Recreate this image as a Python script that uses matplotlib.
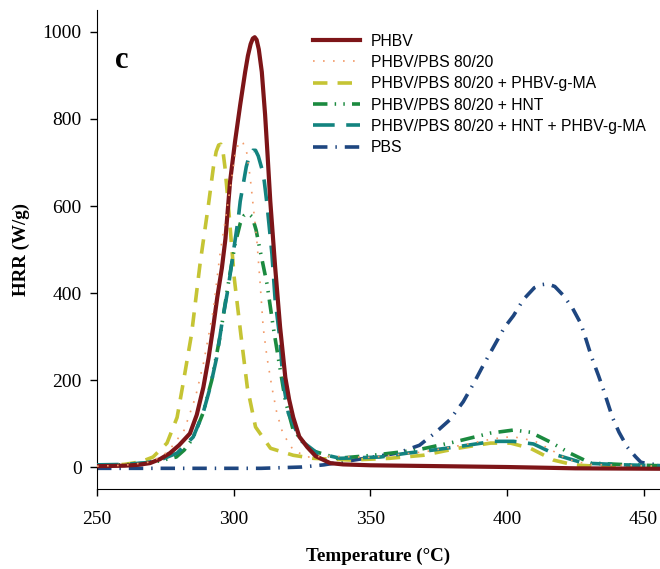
import numpy as np
import matplotlib.pyplot as plt

# values (temperature in C, HRR in W/g)
T_phbv = [250, 260, 265, 269.4, 273, 276.7, 280, 284, 286.5, 288.9, 290.8, 292.5, 294, 295.7, 297,
          298.7, 300.5, 302.4, 304.2, 305.2, 306.2, 307, 307.7, 308.4, 309.2, 310.3, 311.5, 312.4,
          313.4, 315.2, 317, 318.9, 320.3, 321.8, 324, 326.9, 330, 335.3, 340, 350, 375, 400, 425, 456]
hrr_phbv = [2, 3, 5, 9, 18, 32, 50, 77, 120, 183, 250, 321, 390, 458, 525,
            657, 748, 833, 908, 945, 972, 985, 988, 982, 960, 908, 810, 718,
            611, 458, 321, 206, 155, 114, 70, 46, 25, 9, 6, 4, 2, 0, -3, -4]

T_blend = [250, 260, 270, 276, 281.9, 286, 289, 292.5, 295, 297.5, 299.5, 300.5, 301.7, 302.6, 303.5,
           304.8, 306, 306.7, 308.5, 309.7, 310.8, 312.2, 314, 315.8, 318, 321.8, 327, 335,
           350, 370, 385, 395, 402, 410, 416, 422, 430, 456]
hrr_blend = [2, 4, 12, 35, 85, 160, 240, 359, 490, 590, 673, 718, 742, 750, 744,
             722, 668, 627, 519, 421, 321, 252, 183, 124, 77, 39, 23, 25,
             22, 35, 52, 65, 70, 60, 40, 18, 6, 2]

T_ma = [250, 260, 266, 270.5, 275.6, 279.3, 281.5, 284.6, 287.7, 290.8, 292.6, 293.6, 294.5, 295.3,
        296.1, 296.8, 298, 300.2, 302.6, 305, 308, 313.5, 321.8, 329, 342.7, 357, 369.4, 381.9, 394,
        401.3, 408.6, 417, 424.4, 437, 456]
hrr_ma = [3, 6, 12, 23, 55, 114, 192, 306, 467, 604, 690, 725, 740, 742,
          725, 690, 606, 435, 306, 183, 92, 43, 27, 20, 16, 20, 27, 43, 55,
          55, 43, 16, 5, 0, 0]

T_hnt = [250, 260, 270, 279, 281.9, 285, 288.8, 292, 295, 298, 300.5, 302.4, 303.8, 305.3, 306.8,
         308.2, 309.7, 312.2, 314.5, 316.3, 318.9, 321.8, 328, 337.9, 351, 367, 380.4, 394, 402.4,
         408.6, 416, 423, 430.6, 445, 456]
hrr_hnt = [4, 5, 10, 23, 39, 65, 124, 200, 300, 420, 512, 560, 578, 583, 575,
           545, 497, 421, 321, 252, 153, 85, 39, 20, 27, 39, 57, 78, 85,
           80, 57, 32, 9, 5, 3]

T_hnt_ma = [250, 260, 268, 273, 279.3, 285.2, 288.8, 291.4, 293.8, 295.7, 298, 299.8, 301.7, 302.4,
            303.5, 304.6, 305.8, 307, 308, 309, 310.3, 311.2, 312.2, 314, 315.2, 317, 318, 320, 324.4,
            330.6, 339, 353.7, 363.6, 373, 385.5, 395, 402.4, 409.7, 418.5, 428, 442.7, 456]
hrr_hnt_ma = [5, 6, 10, 16, 32, 69, 124, 183, 252, 330, 412, 490, 572, 611,
              650, 690, 718, 728, 728, 715, 686, 657, 604, 490, 382, 291, 199, 124, 62,
              32, 20, 23, 32, 39, 50, 59, 59, 53, 27, 9, 5, 3]

T_pbs = [250, 280, 310, 325, 333, 339, 346, 352, 360, 368, 374, 379, 384, 387.8, 391, 395, 399,
         402.4, 406, 410, 412.5, 414.8, 417.5, 420.7, 424, 427, 429, 431, 433.5, 435.4, 438.6,
         441, 444, 447, 449, 452, 456]
hrr_pbs = [-3, -3, -3, 0, 5, 11, 18, 24, 32, 50, 80, 108, 150, 192, 230, 275, 320,
           348, 385, 412, 419, 421, 415, 394, 365, 330, 292, 252, 210, 176, 114,
           80, 46, 24, 11, 7, 5]

labels = ['PHBV', 'PHBV/PBS 80/20', 'PHBV/PBS 80/20 + PHBV-g-MA', 'PHBV/PBS 80/20 + HNT',
          'PHBV/PBS 80/20 + HNT + PHBV-g-MA', 'PBS']

fig = plt.figure(figsize=(6.6, 5.69), dpi=100)
ax = fig.add_axes([0.147, 0.141, 0.853, 0.841])

ax.plot(T_phbv, hrr_phbv, color='#7d1518', lw=3.0, label=labels[0], zorder=6)
ax.plot(T_blend, hrr_blend, color='#f29a68', lw=1.2, ls=(0, (1, 5)), label=labels[1], zorder=7)
ax.plot(T_ma, hrr_ma, color='#c5c434', lw=2.6, ls=(0, (4, 2.8)), label=labels[2], zorder=3)
ax.plot(T_hnt, hrr_hnt, color='#1b8a3f', lw=2.6, ls=(0, (4, 2, 0.4, 2, 0.4, 2)), label=labels[3], zorder=4)
ax.plot(T_hnt_ma, hrr_hnt_ma, color='#13837f', lw=2.6, ls=(0, (6, 3.2)), label=labels[4], zorder=5)
ax.plot(T_pbs, hrr_pbs, color='#1e4680', lw=2.6, ls=(0, (4, 2.2, 0.4, 2.2)), label=labels[5], zorder=2)

ax.set_xlim(250, 456)
ax.set_ylim(-50, 1050)
ax.set_xticks([250, 300, 350, 400, 450])
ax.set_yticks([0, 200, 400, 600, 800, 1000])
ax.spines['top'].set_visible(False)
ax.spines['right'].set_visible(False)
ax.tick_params(direction='out', length=5, width=1, labelsize=14)
ax.tick_params(axis='x', pad=11)
ax.tick_params(axis='y', pad=6)
for lab in ax.get_xticklabels() + ax.get_yticklabels():
    lab.set_fontfamily('Liberation Serif')

ax.set_xlabel('Temperature (°C)', fontsize=13.7, fontweight='bold', family='Liberation Serif', labelpad=14)
ax.set_ylabel('HRR (W/g)', fontsize=13.7, fontweight='bold', family='Liberation Serif', labelpad=9)

ax.text(0.032, 0.895, 'c', transform=ax.transAxes, fontsize=22, fontweight='bold',
        family='Liberation Serif', va='center')

ax.legend(loc='upper left', bbox_to_anchor=(0.383, 0.951), frameon=False,
          prop={'family': 'Liberation Sans', 'size': 11.3},
          handlelength=3.0, handletextpad=0.7, labelspacing=0.4, borderpad=0, borderaxespad=0)

fig.savefig('out.png', dpi=100)
